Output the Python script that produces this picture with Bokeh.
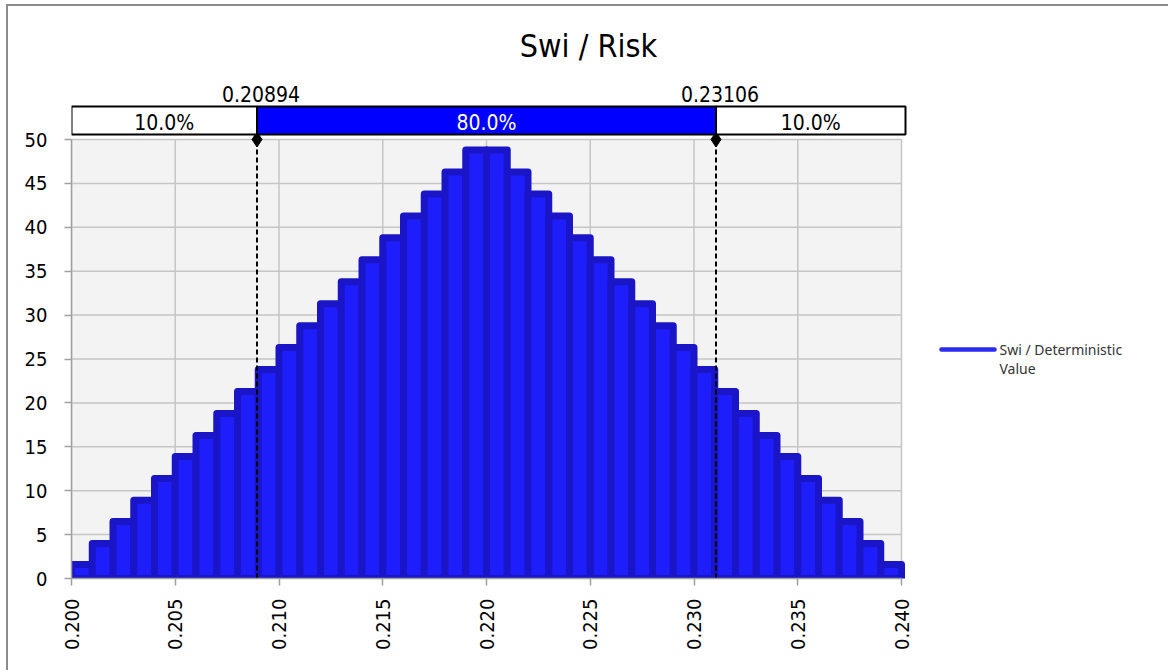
import math
from bokeh.plotting import figure
from bokeh.layouts import row, column
from bokeh.models import FixedTicker, NumeralTickFormatter, Spacer
from bokeh.core.properties import value
from bokeh.embed import file_html
from bokeh.resources import INLINE

# ---- data ----
bin_left = [0.200, 0.201, 0.202, 0.203, 0.204, 0.205, 0.206, 0.207, 0.208, 0.209,
            0.210, 0.211, 0.212, 0.213, 0.214, 0.215, 0.216, 0.217, 0.218, 0.219,
            0.220, 0.221, 0.222, 0.223, 0.224, 0.225, 0.226, 0.227, 0.228, 0.229,
            0.230, 0.231, 0.232, 0.233, 0.234, 0.235, 0.236, 0.237, 0.238, 0.239]
bin_right = [0.201, 0.202, 0.203, 0.204, 0.205, 0.206, 0.207, 0.208, 0.209, 0.210,
             0.211, 0.212, 0.213, 0.214, 0.215, 0.216, 0.217, 0.218, 0.219, 0.220,
             0.221, 0.222, 0.223, 0.224, 0.225, 0.226, 0.227, 0.228, 0.229, 0.230,
             0.231, 0.232, 0.233, 0.234, 0.235, 0.236, 0.237, 0.238, 0.239, 0.240]
counts = [1.6, 4.0, 6.5, 8.9, 11.4, 13.9, 16.3, 18.8, 21.3, 23.8,
          26.3, 28.8, 31.3, 33.8, 36.3, 38.8, 41.3, 43.8, 46.3, 48.8,
          48.8, 46.3, 43.8, 41.3, 38.8, 36.3, 33.8, 31.3, 28.8, 26.3,
          23.8, 21.3, 18.8, 16.3, 13.9, 11.4, 8.9, 6.5, 4.0, 1.6]
x_ticks = [0.200, 0.205, 0.210, 0.215, 0.220, 0.225, 0.230, 0.235, 0.240]
y_ticks = [0, 5, 10, 15, 20, 25, 30, 35, 40, 45, 50]
x_min, x_max = 0.200, 0.240
y_min, y_max = 0, 50
cut_values = [0.20894, 0.23106]
cut_labels = ["0.20894", "0.23106"]
segment_labels = ["10.0%", "80.0%", "10.0%"]
title_text = "Swi / Risk"
legend_lines = ["Swi / Deterministic", "Value"]

FONT = "DejaVu Sans Condensed"
BORDER = "#8c8c8c"

# ---- layout (page pixels) ----
W, H = 1168, 670
OX, OY = 8, 6                                # figure origin (inside chart border)
PL, PR, PT, PB = 71, 901, 139, 578          # plot area edges
kx = (PR - PL) / (x_max - x_min)
ky = (PB - PT) / (y_max - y_min)


def X(px):
    return x_min + (px - PL) / kx


def Y(py):
    return y_min + (PB - py) / ky


p = figure(width=W - OX, height=H - OY, x_range=(x_min, X(W)), y_range=(y_min, Y(OY)),
           output_backend="svg", toolbar_location=None,
           min_border_left=PL - OX, min_border_right=0, min_border_top=0,
           min_border_bottom=H - PB)
p.background_fill_color = "white"
p.border_fill_color = "white"
p.outline_line_color = None
p.grid.visible = False

# plot area background
p.quad(left=[x_min], right=[x_max], bottom=[y_min], top=[y_max],
       fill_color="#f3f3f3", line_color=None)
# grid lines
p.segment(x0=[x_min] * len(y_ticks), x1=[x_max] * len(y_ticks), y0=y_ticks, y1=y_ticks,
          line_color="#c6c6c6", line_width=1.5)
p.segment(x0=x_ticks, x1=x_ticks, y0=[y_min] * len(x_ticks), y1=[y_max] * len(x_ticks),
          line_color="#c6c6c6", line_width=1.5)

# histogram bars
p.quad(left=bin_left, right=bin_right, bottom=0, top=counts,
       fill_color="#1e1efc", line_color="#1a16c8", line_width=7, line_join="round")

# dashed cut lines + diamonds
p.segment(x0=cut_values, x1=cut_values, y0=[y_min] * 2, y1=[y_max] * 2,
          line_color="black", line_width=2, line_dash="5 3")
p.scatter(x=cut_values, y=[y_max] * 2, marker="diamond", size=15,
          fill_color="black", line_color="black")

# band above plot
seg_left = [x_min, cut_values[0], cut_values[1]]
seg_right = [cut_values[0], cut_values[1], X(905)]
p.quad(left=seg_left, right=seg_right, bottom=Y(134), top=Y(106),
       fill_color=["white", "#0000ff", "white"], line_color="black", line_width=2)
p.text(x=[(a + b) / 2 for a, b in zip(seg_left, seg_right)], y=[Y(122)] * 3,
       text=segment_labels, text_color=["black", "white", "black"],
       text_align="center", text_baseline="middle",
       text_font=value(FONT), text_font_size="21px")
p.text(x=cut_values, y=[Y(93)] * 2, text=cut_labels, x_offset=4,
       text_align="center", text_baseline="middle", text_color="black",
       text_font=value(FONT), text_font_size="21px")

# title
p.text(x=[X(588)], y=[Y(45)], text=[title_text], text_align="center",
       text_baseline="middle", text_color="black",
       text_font=value(FONT), text_font_size="32px")

# legend
p.line(x=[X(941), X(994)], y=[Y(349), Y(349)], line_color="#2a2af0", line_width=4.5,
       line_cap="round")
p.text(x=[X(999), X(999)], y=[Y(349), Y(368)], text=legend_lines,
       text_align="left", text_baseline="middle", text_color="#333333",
       text_font=value("Noto Sans"), text_font_size="14px")

# axes
p.yaxis.ticker = FixedTicker(ticks=y_ticks)
p.xaxis.ticker = FixedTicker(ticks=x_ticks)
p.xaxis.formatter = NumeralTickFormatter(format="0.000")
p.xaxis.major_label_orientation = math.pi / 2
p.xaxis.bounds = (x_min, x_max)
p.yaxis.bounds = (y_min, y_max)
for ax in (p.xaxis, p.yaxis):
    ax.major_label_text_font = FONT
    ax.major_label_text_font_size = "20px"
    ax.major_label_text_color = "black"
    ax.axis_line_color = "#a0a0a0"
    ax.axis_line_width = 1.5
    ax.major_tick_line_color = "#a0a0a0"
    ax.major_tick_line_width = 1.5
    ax.major_tick_out = 7
    ax.major_tick_in = 0
    ax.minor_tick_out = 0
    ax.minor_tick_in = 0
p.yaxis.major_label_standoff = 17
p.xaxis.major_label_standoff = 13

# chart border (top and left strips) around the figure
top_edge = Spacer(width=W - 6, height=2, styles={"background-color": BORDER})
left_edge = Spacer(width=2, height=H - OY, styles={"background-color": BORDER})
layout = column(
    Spacer(width=W, height=4),
    row(Spacer(width=6, height=H - 4),
        column(top_edge, row(left_edge, p, spacing=0), spacing=0),
        spacing=0),
    spacing=0)

open("out.html", "w").write(file_html(layout, INLINE))
